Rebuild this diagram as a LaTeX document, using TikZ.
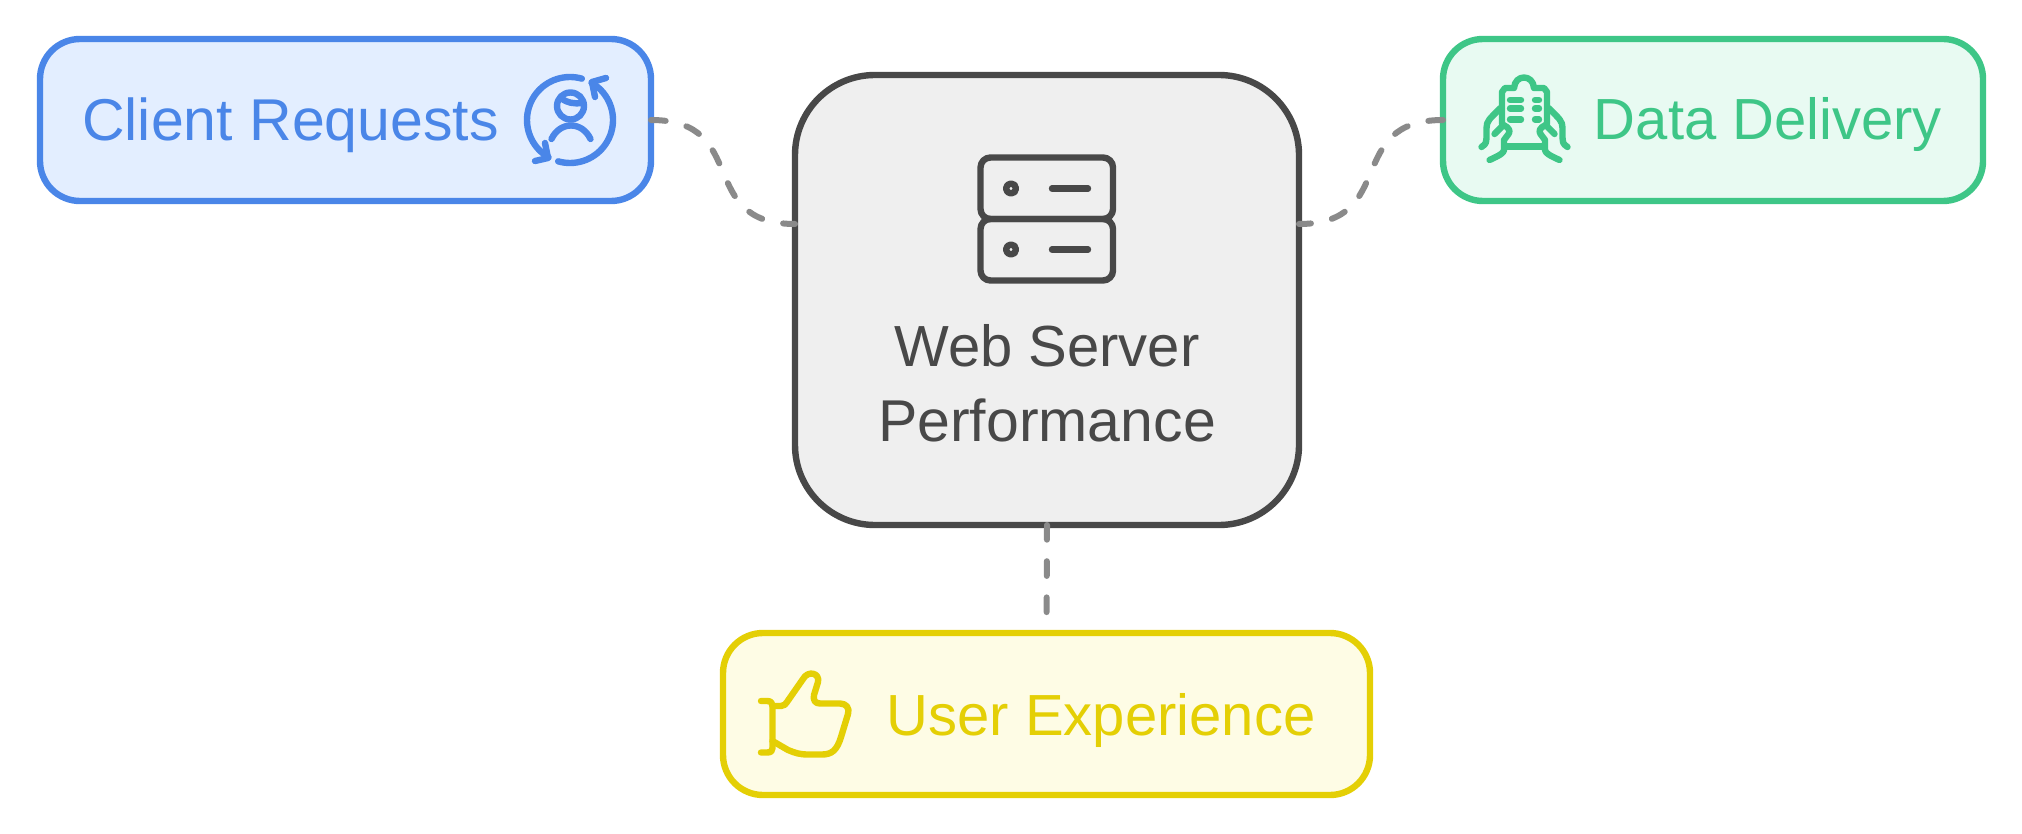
\documentclass[tikz,border=0pt]{standalone}
\usepackage{fontspec}
\setmainfont{Liberation Sans}
\usetikzlibrary{positioning, calc}

\definecolor{clientBlue}{HTML}{4A86E8}
\definecolor{clientFill}{HTML}{E3EEFF}
\definecolor{dataGreen}{HTML}{3EC687}
\definecolor{dataFill}{HTML}{E8FAF2}
\definecolor{userYellow}{HTML}{E4CF05}
\definecolor{userFill}{HTML}{FEFCE5}
\definecolor{serverGray}{HTML}{484848}
\definecolor{serverFill}{HTML}{EFEFEF}
\definecolor{linkGray}{HTML}{8A8A8A}

\tikzset{
    card/.style={draw, line width=3.2pt, rounded corners=20pt, outer sep=0pt, inner sep=0pt},
    label/.style={font=\fontsize{29.5}{37}\selectfont, anchor=base, inner sep=0pt, align=center},
    tight/.style={font=\fontsize{29}{37}\selectfont},
    icon/.style={line width=3.2pt, line cap=round, line join=round},
    link/.style={draw=linkGray, line width=3pt, line cap=round, dash pattern=on 7.35pt off 10.75pt}
}

\begin{document}
\begin{tikzpicture}[x=0.5pt, y=-0.5pt]
    \useasboundingbox (0, 0) rectangle (2022, 834);

    % Boxes
    \node[card, draw=clientBlue, fill=clientFill, minimum width=305.5pt, minimum height=81pt] (client) at (345.5, 120) {};
    \node[card, draw=dataGreen, fill=dataFill, minimum width=270pt, minimum height=81pt] (delivery) at (1713, 120) {};
    \node[card, draw=userYellow, fill=userFill, minimum width=323.5pt, minimum height=81pt] (experience) at (1046.5, 714) {};
    \node[card, draw=serverGray, fill=serverFill, rounded corners=40pt, minimum width=252pt, minimum height=225pt] (server) at (1047, 300) {};

    % Labels
    \node[label, text=clientBlue] (clientText) at (290.5, 141) {Client Requests};
    \node[label, tight, text=dataGreen] (deliveryText) at (1768, 140) {Data Delivery};
    \node[label, tight, text=userYellow] (experienceText) at (1101, 735) {User Experience};
    \node[label, tight, text=serverGray] (serverTextA) at (1047, 366) {Web Server};
    \node[label, text=serverGray] (serverTextB) at (1047, 441) {Performance};

    % Links
    \draw[link] (client.east) .. controls +(100, 0) and +(-100, 0) .. ([yshift=38pt]server.west);
    \draw[link] (delivery.west) .. controls +(-100, 0) and +(100, 0) .. ([yshift=38pt]server.east);
    \draw[link] (server.south) -- (experience.north);

    % Server icon
    \begin{scope}[icon, draw=serverGray]
        \draw[rounded corners=5pt] (980.5, 157.5) rectangle (1113, 219);
        \draw[rounded corners=5pt] (980.5, 219) rectangle (1113, 280.5);
        \draw (1011, 188.5) circle (5);
        \draw (1011, 249.5) circle (5);
        \draw (1052, 188.5) -- (1088, 188.5);
        \draw (1052, 249.5) -- (1088, 249.5);
    \end{scope}

    % Client icon: person and two turning arrows
    \begin{scope}[icon, draw=clientBlue]
        \draw plot[domain=-240:-74, samples=40, smooth] ({570+43*cos(\x)}, {120+43*sin(\x)});
        \draw plot[domain=-60:106, samples=40, smooth] ({570+43*cos(\x)}, {120+43*sin(\x)});
        \draw (535, 161) -- (548, 158) -- (545, 143);
        \draw (606, 78) -- (592, 82) -- (595, 97);
        \draw (570.5, 106) circle (13.5);
        \draw (561, 98) .. controls (567, 103) and (574, 104) .. (582, 103);
        \draw (551.5, 139) .. controls (560, 121) and (582, 121) .. (590.5, 139);
    \end{scope}

    % Data icon: clipboard held in two hands
    \begin{scope}[icon, draw=dataGreen]
        \draw (1502, 124) -- (1502, 92) -- (1505, 88) -- (1514, 88)
            .. controls (1515, 74) and (1533, 74) .. (1534, 88) -- (1544, 88) -- (1547, 92) -- (1547, 124);
        \draw (1505, 146.5) -- (1544, 146.5);
        \foreach \rowY in {100, 108.5, 119.5} {
            \draw (1510, \rowY) -- (1521, \rowY);
            \draw (1535, \rowY) -- (1539, \rowY);
        }
        \foreach \handSide in {1, -1} {
            \begin{scope}[shift={(1524.5, 0)}, xscale=\handSide]
                \draw (-43, 147) .. controls (-38, 144) and (-38, 141) .. (-38, 138) -- (-38, 128)
                    .. controls (-38, 121) and (-35, 119) .. (-24, 108);
                \draw (-30, 134) -- (-21, 125) .. controls (-15, 128) and (-14, 131) .. (-16, 134)
                    -- (-20.5, 140) -- (-20.5, 150) .. controls (-21, 153) and (-24, 155) .. (-35, 160);
            \end{scope}
        }
    \end{scope}

    % User icon: thumb up
    \begin{scope}[icon, draw=userYellow]
        \draw (761, 701) -- (767, 701) .. controls (771, 701) and (772.5, 703) .. (772.5, 706) -- (772.5, 748)
            .. controls (772.5, 751) and (771, 752.5) .. (767, 752.5) -- (761, 752.5);
        \draw (772.5, 706) -- (781, 706) .. controls (784, 706) and (786, 704) .. (787, 702)
            -- (803, 679) .. controls (808, 670) and (820, 673) .. (818, 682)
            -- (814, 695) .. controls (813, 700) and (815, 703.5) .. (820, 703.5)
            -- (840, 703.5) .. controls (846, 703.5) and (850, 708) .. (848, 714)
            -- (841, 737) .. controls (837, 750) and (832, 754.5) .. (822, 754.5)
            -- (808, 754.5) .. controls (800, 754.5) and (795, 753) .. (788, 750) -- (772.5, 741);
    \end{scope}
\end{tikzpicture}
\end{document}
